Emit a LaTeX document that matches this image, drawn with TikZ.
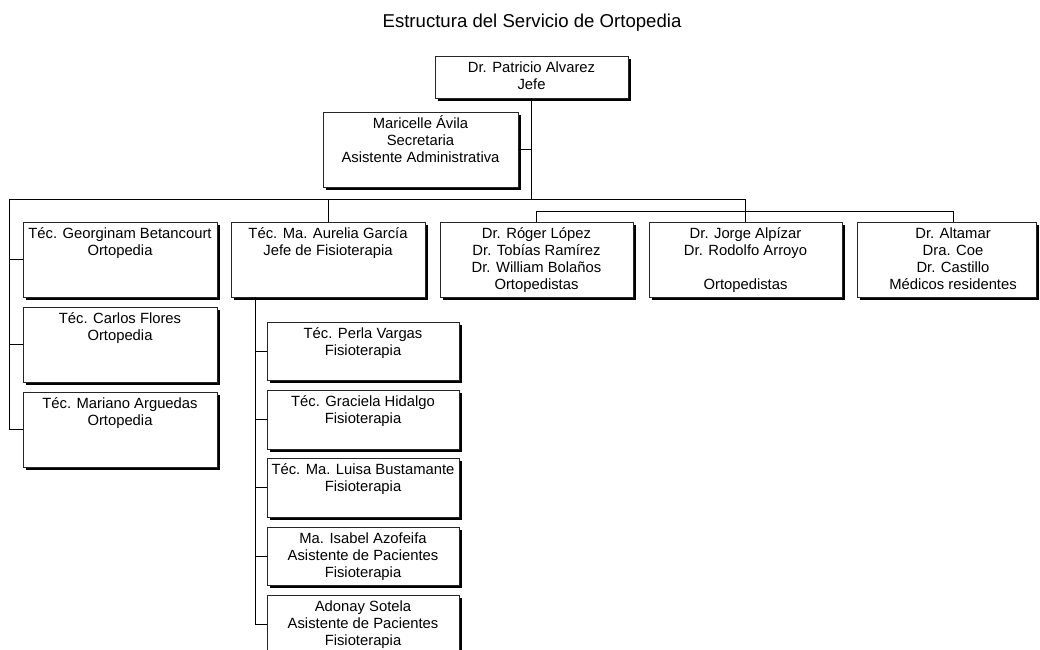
\documentclass[tikz,border=0pt]{standalone}
\usepackage{fontspec}
\setmainfont{Liberation Sans}
\usetikzlibrary{shadows}
\tikzset{
  box/.style={draw=black!85, line width=0.8pt, fill=white, inner sep=0pt, outer sep=0pt,
    anchor=north west, rectangle,
    drop shadow={shadow xshift=3pt, shadow yshift=-3pt, fill=black, opacity=1}},
  txt/.style={font=\fontsize{14.8}{17}\selectfont, align=center, inner sep=0pt, anchor=north},
  conn/.style={draw=black, line width=0.8pt},
  title/.style={font=\fontsize{18.6}{21}\selectfont, inner sep=0pt, anchor=base}
}
\newcommand{\orgbox}[6]{%
  \node[box, minimum width=#4pt, minimum height=#5pt] (#1) at (#2,#3) {};
  \node[txt] (#1-t) at ([yshift=-2.5pt]#1.north) {\rule{0pt}{14pt}#6};
}
\begin{document}
\begin{tikzpicture}[x=1pt, y=-1pt]
\useasboundingbox (0,0) rectangle (1040,649);
\clip (0,0) rectangle (1040,649);
\fill[white] (0,0) rectangle (1040,649);

\node[title] (ttl) at (532,27) {Estructura del Servicio de Ortopedia};

\orgbox{pat}{435}{56}{193}{42}{Dr. Patricio Alvarez\\Jefe}
\orgbox{sec}{323}{112}{195}{75}{Maricelle Ávila\\Secretaria\\Asistente Administrativa}
\orgbox{geo}{23}{222}{194}{75}{Téc. Georginam Betancourt\\Ortopedia}
\orgbox{car}{23}{307}{194}{75}{Téc. Carlos Flores\\Ortopedia}
\orgbox{mar}{23}{392}{194}{75}{Téc. Mariano Arguedas\\Ortopedia}
\orgbox{aur}{231}{222}{194}{75}{Téc. Ma. Aurelia García\\Jefe de Fisioterapia}
\orgbox{rog}{440}{222}{193}{75}{Dr. Róger López\\Dr. Tobías Ramírez\\Dr. William Bolaños\\Ortopedistas}
\orgbox{jor}{649}{222}{193}{75}{Dr. Jorge Alpízar\\Dr. Rodolfo Arroyo\\\mbox{}\\Ortopedistas}
\node[box, minimum width=179pt, minimum height=75pt] (alt) at (857,222) {};
\node[txt] (alt-t) at (953,224.5) {\rule{0pt}{14pt}Dr. Altamar\\Dra. Coe\\Dr. Castillo\\Médicos residentes};
\orgbox{per}{267}{322}{192}{58}{Téc. Perla Vargas\\Fisioterapia}
\orgbox{gra}{267}{390}{192}{59}{Téc. Graciela Hidalgo\\Fisioterapia}
\orgbox{bus}{267}{458}{192}{59}{Téc. Ma. Luisa Bustamante\\Fisioterapia}
\orgbox{azo}{267}{527}{192}{58}{Ma. Isabel Azofeifa\\Asistente de Pacientes\\Fisioterapia}
\orgbox{ado}{267}{595}{192}{58}{Adonay Sotela\\Asistente de Pacientes\\Fisioterapia}

% junctions
\coordinate (bus0) at (pat.south |- 0,199);
\coordinate (lt) at (9,199);
\coordinate (rt) at (745,199);
\coordinate (rb) at (745,211);
\coordinate (altc) at (953,222);
\coordinate (fv) at (255,297);

% connectors
\draw[conn] (pat.south) -- (bus0);
\draw[conn] (sec.east) -- (sec.east -| pat.south);
\draw[conn] (lt) -- (rt);
\draw[conn] (lt) |- (mar.west);
\draw[conn] (geo.west) -- (geo.west -| lt);
\draw[conn] (car.west) -- (car.west -| lt);
\draw[conn] (aur.north) -- (aur.north |- lt);
\draw[conn] (rt) -- (rb);
\draw[conn] (rog.north) |- (rb);
\draw[conn] (jor.north) -- (jor.north |- rb);
\draw[conn] (altc) |- (rb);
\draw[conn] (fv) |- (ado.west);
\draw[conn] (per.west) -- (per.west -| fv);
\draw[conn] (gra.west) -- (gra.west -| fv);
\draw[conn] (bus.west) -- (bus.west -| fv);
\draw[conn] (azo.west) -- (azo.west -| fv);
\end{tikzpicture}
\end{document}
